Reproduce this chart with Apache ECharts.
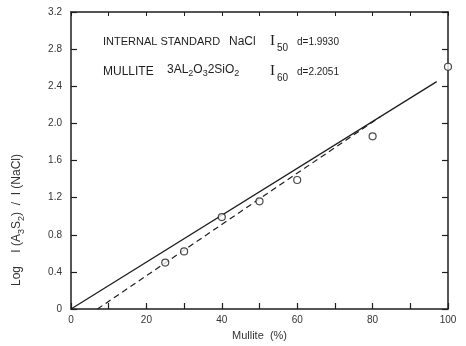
<!DOCTYPE html>
<html>
<head>
<meta charset="utf-8">
<style>
  html, body { margin: 0; padding: 0; background: #fff; }
  #chart { width: 466px; height: 346px; }
</style>
<script src="https://cdn.jsdelivr.net/npm/echarts@6/dist/echarts.min.js"></script>
</head>
<body>
<div id="chart"></div>
<script>
// Measured points: mullite content (%) vs intensity ratio
var mulliteContent = [25, 30, 40, 50, 60, 80, 100];
var intensityRatio = [0.50, 0.62, 0.99, 1.16, 1.39, 1.86, 2.61];

// Calibration lines (end points)
var solidLineX = [0, 97];
var solidLineY = [0, 2.45];
var dashedLineX = [7, 82];
var dashedLineY = [0, 2.07];

// Axis tick labels
var xTickLabels = ['0', '20', '40', '60', '80', '100'];
var yTickLabels = ['0', '0.4', '0.8', '1.2', '1.6', '2.0', '2.4', '2.8', '3.2'];

function pairs(xs, ys) {
  return xs.map(function (x, i) { return [x, ys[i]]; });
}

var ink = '#1e1e1e';
var sans = '"Liberation Sans", "DejaVu Sans", sans-serif';
var serif = '"Liberation Serif", "DejaVu Serif", serif';

var chart = echarts.init(document.getElementById('chart'), null, { renderer: 'canvas' });

var axisLineStyle = { show: true, onZero: false, lineStyle: { color: ink, width: 1.5 } };
var tickStyle = { show: true, inside: true, length: 6, lineStyle: { color: ink, width: 1.2 } };

var option = {
  backgroundColor: '#ffffff',
  animation: false,
  grid: { left: 71, right: 18, top: 12, bottom: 35 },
  xAxis: [
    {
      type: 'value', min: 0, max: 100, interval: 10,
      axisLine: axisLineStyle, axisTick: tickStyle, splitLine: { show: false },
      axisLabel: {
        color: '#333', fontFamily: sans, fontSize: 10, margin: 6,
        formatter: function (v) {
          var idx = xTickLabels.indexOf(String(v));
          return idx >= 0 ? xTickLabels[idx] : '';
        }
      },
      name: 'Mullite  (%)', nameLocation: 'middle', nameGap: 21,
      nameTextStyle: { color: '#333', fontFamily: sans, fontSize: 11 }
    },
    {
      type: 'value', position: 'top', min: 0, max: 100, interval: 10,
      axisLine: axisLineStyle,
      axisTick: { show: true, inside: true, length: 4, lineStyle: { color: ink, width: 1 } },
      axisLabel: { show: false }, splitLine: { show: false }
    }
  ],
  yAxis: [
    {
      type: 'value', min: 0, max: 3.2, interval: 0.4,
      axisLine: axisLineStyle, axisTick: tickStyle, splitLine: { show: false },
      axisLabel: {
        color: '#333', fontFamily: sans, fontSize: 10, margin: 9,
        formatter: function (v) {
          return yTickLabels[Math.round(v / 0.4)];
        }
      }
    },
    {
      type: 'value', position: 'right', min: 0, max: 3.2, interval: 0.4,
      axisLine: axisLineStyle, axisTick: tickStyle,
      axisLabel: { show: false }, splitLine: { show: false }
    }
  ],
  series: [
    {
      type: 'line', name: 'calibration',
      data: pairs(solidLineX, solidLineY),
      symbol: 'none', lineStyle: { color: ink, width: 1.3 }
    },
    {
      type: 'line', name: 'fit',
      data: pairs(dashedLineX, dashedLineY),
      symbol: 'none', lineStyle: { color: ink, width: 1.2, type: [6, 4] }
    },
    {
      type: 'scatter', name: 'measured',
      data: pairs(mulliteContent, intensityRatio),
      symbol: 'circle', symbolSize: 7,
      itemStyle: { color: '#fff', borderColor: ink, borderWidth: 1.2 },
      z: 5
    }
  ],
  graphic: [
    // vertical axis title
    {
      type: 'text', x: 17, y: 220, rotation: Math.PI / 2,
      style: {
        text: '{t|Log    I (A}{s|3}{t|S}{s|2}{t|)  /  I (NaCl)}',
        align: 'center', verticalAlign: 'middle', fill: '#333',
        rich: {
          t: { font: '12px ' + sans, fill: '#333', lineHeight: 18, verticalAlign: 'middle' },
          s: { font: '9px ' + sans, fill: '#333', lineHeight: 9, verticalAlign: 'bottom' }
        }
      }
    },
    // header annotation, first row
    { type: 'text', left: 103, top: 36, style: { text: 'INTERNAL STANDARD', fill: ink, font: '11px ' + sans } },
    { type: 'text', left: 229, top: 36, style: { text: 'NaCl', fill: ink, font: '12px ' + sans } },
    { type: 'text', left: 270, top: 34, style: { text: 'I', fill: ink, font: '15px ' + serif } },
    { type: 'text', left: 277, top: 43, style: { text: '50', fill: ink, font: '10px ' + sans } },
    { type: 'text', left: 297, top: 37, style: { text: 'd=1.9930', fill: ink, font: '10px ' + sans } },

    // header annotation, second row
    { type: 'text', left: 103, top: 66, style: { text: 'MULLITE', fill: ink, font: '12px ' + sans } },
    {
      type: 'text', left: 167, top: 64,
      style: {
        text: '{t|3AL}{s|2}{t|O}{s|3}{t|2SiO}{s|2}',
        fill: ink,
        rich: {
          t: { font: '12px ' + sans, fill: ink, lineHeight: 17, verticalAlign: 'middle' },
          s: { font: '9px ' + sans, fill: ink, lineHeight: 9, verticalAlign: 'bottom' }
        }
      }
    },
    { type: 'text', left: 270, top: 64, style: { text: 'I', fill: ink, font: '15px ' + serif } },
    { type: 'text', left: 277, top: 73, style: { text: '60', fill: ink, font: '10px ' + sans } },
    { type: 'text', left: 297, top: 67, style: { text: 'd=2.2051', fill: ink, font: '10px ' + sans } }
  ]
};

chart.setOption(option);
</script>
</body>
</html>
